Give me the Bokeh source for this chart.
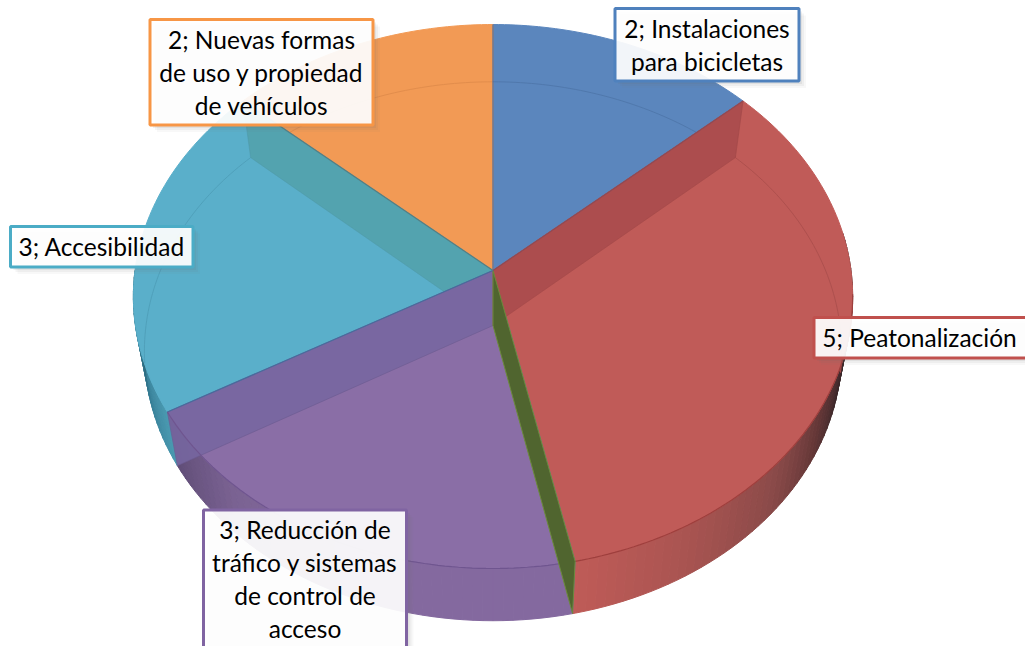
import math
from bokeh.plotting import figure
from bokeh.models import Range1d
from bokeh.core.properties import value
from bokeh.embed import file_html
from bokeh.resources import INLINE

categories = [["Instalaciones", "para bicicletas"],
              ["Peatonalización"],
              [],
              ["Reducción de", "tráfico y sistemas", "de control de", "acceso"],
              ["Accesibilidad"],
              ["Nuevas formas", "de uso y propiedad", "de vehículos"]]
values = [2, 5, 0, 3, 3, 2]
colors = ["#5b86bd", "#c05b58", "#9bbb59", "#8a6ea6", "#5aafca", "#f29a55"]
border = ["#4f81bd", "#c0504d", "#9bbb59", "#8064a2", "#4bacc6", "#f79646"]

# projection of the pie (page pixels)
CX, CY, RX, RY, K = 492.5, 270.0, 358.0, 269.5, 0.0956
CXB, CYB, RXB, RYB = 492.5, 325.0, 347.0, 267.0


def _p(t, cx, cy, rx, ry):
    a = math.radians(t)
    s = 1 / (1 + K * math.cos(a))
    return cx + rx * math.sin(a) * s, cy - ry * math.cos(a) * s


def top(t):
    return _p(t, CX, CY, RX, RY)


def base(t):
    return _p(t, CXB, CYB, RXB, RYB)


def arc(fn, a, b, step=1.0):
    n = max(2, int(abs(b - a) / step) + 1)
    return [fn(a + (b - a) * i / (n - 1)) for i in range(n)]


def lerp_color(stops, t):
    for (t0, c0), (t1, c1) in zip(stops, stops[1:]):
        if t0 <= t <= t1:
            f = (t - t0) / (t1 - t0)
            rgb = [int(round(int(c0[i:i + 2], 16) * (1 - f) + int(c1[i:i + 2], 16) * f)) for i in (1, 3, 5)]
            return "#%02x%02x%02x" % tuple(rgb)
    return stops[-1][1]


def intersect(p1, p2, p3, p4):
    x1, y1 = p1; x2, y2 = p2; x3, y3 = p3; x4, y4 = p4
    d = (x1 - x2) * (y3 - y4) - (y1 - y2) * (x3 - x4)
    u = ((x1 - x3) * (y3 - y4) - (y1 - y3) * (x3 - x4)) / d
    return x1 + u * (x2 - x1), y1 + u * (y2 - y1)


total = sum(values)
edges = [0.0]
for v in values:
    edges.append(edges[-1] + v / total * 360.0)

p = figure(width=1025, height=646, output_backend="svg", toolbar_location=None,
           x_range=Range1d(0, 1025), y_range=Range1d(646, 0), min_border=0,
           background_fill_color="white", border_fill_color="white", outline_line_color=None)
p.xaxis.visible = False
p.yaxis.visible = False
p.xgrid.visible = False
p.ygrid.visible = False

b_red, e_red = edges[1], edges[2]
b_pur, e_pur = edges[3], edges[4]
b_cya, e_cya = edges[4], edges[5]

# outer front wall, as narrow shaded strips
wall_stops = [
    (82, "#241d1f"), (100, "#2c2224"), (110, "#432a2c"), (120, "#663838"), (132, "#8a4a49"), (150, "#a95451"), (e_red, "#bf5b57"),
]
pur_stops = [(b_pur, "#84699f"), (200, "#84699f"), (222, "#7b6393"), (e_pur, "#5f4c76")]
cya_stops = [(b_cya, "#4a9ab2"), (255, "#357c94"), (270, "#20505f")]


def strip(a, b, stops):
    xs, ys, cs = [], [], []
    t = a
    while t < b - 1e-6:
        t2 = min(b, t + 1.5)
        q = [top(t), top(t2), base(t2), base(t)]
        xs.append([c[0] for c in q])
        ys.append([c[1] for c in q])
        cs.append(lerp_color(stops, (t + t2) / 2))
        t = t2
    p.patches(xs, ys, fill_color=cs, line_color=cs, line_width=1)


strip(82, e_red, wall_stops)
strip(b_pur, e_pur, pur_stops)
strip(b_cya, 270, cya_stops)

# top faces
for i, v in enumerate(values):
    if v == 0:
        continue
    pts = [(CX, CY)] + arc(top, edges[i], edges[i + 1])
    p.patch([c[0] for c in pts], [c[1] for c in pts], fill_color=colors[i], line_color=colors[i], line_width=1)

# back-disc rim seen through the faces
for i, a, b, col in [(0, edges[0], edges[1], "#5078ac"), (1, b_red, 100, "#ad504e"),
                     (4, 262, e_cya, "#50a0ba"), (5, b_cya + 0, edges[6], "#e28d4c")]:
    pts = arc(base, a, b)
    if i == 0:
        pts = [c for c in pts if (c[1] - CY) < (top(edges[1])[1] - CY) / (top(edges[1])[0] - CX) * (c[0] - CX)]
    if i == 5:
        q = top(edges[5])
        pts = [c for c in pts if (c[1] - CY) < (q[1] - CY) / (q[0] - CX) * (c[0] - CX)]
    p.line([c[0] for c in pts], [c[1] for c in pts], line_color=col, line_width=1)

# side walls of the slices, translucent
bc = (CXB, CYB)
c0 = (CX, CY)
q = [c0, top(e_cya), base(e_cya), intersect(base(e_cya), bc, c0, top(e_pur))]
p.patch([c[0] for c in q], [c[1] for c in q], fill_color="#51a0a8", fill_alpha=0.8, line_color="#4f98a8", line_alpha=0.5, line_width=1)
q = [c0, top(e_pur), base(e_pur), bc]
p.patch([c[0] for c in q], [c[1] for c in q], fill_color="#7666a0", fill_alpha=0.88, line_color="#6a5a90", line_alpha=0.6, line_width=1)
q = [c0, top(b_red), base(b_red), bc]
p.patch([c[0] for c in q], [c[1] for c in q], fill_color="#ab4d4e", fill_alpha=0.95, line_color="#a04848", line_alpha=0.6, line_width=1)

# front rim lines
for a, b, col in [(95, e_red, "#9e3f3d"), (b_pur, e_pur, "#6f558f")]:
    pts = arc(top, a, b)
    p.line([c[0] for c in pts], [c[1] for c in pts], line_color=col, line_width=1.2)

# wall of the empty slice
q = [c0, top(edges[2]), base(edges[2]), bc]
p.patch([c[0] for c in q], [c[1] for c in q], fill_color="#50652f", line_color="#6b8a3c", line_width=1)

# slice boundaries on the top face
for t, col in [(edges[0], "#4d6f9f"), (edges[1], "#8f4b55"), (e_pur, "#4a6a9c"), (e_cya, "#527f86")]:
    e = top(t)
    p.line([CX, e[0]], [CY, e[1]], line_color=col, line_width=1.2)

# data labels: index into the series, box (left, right, top, bottom), first-line centre
boxes = [(0, 614.5, 798.5, 8, 80.5, 28),
         (1, 813.5, 1029, 317, 357.5, 337),
         (3, 203, 406, 509.5, 660, 529),
         (4, 10, 192.5, 226, 266.5, 246),
         (5, 149.5, 372.5, 19, 124.5, 39)]
LINE = 32.9
for i, l, r, t, b, y0 in boxes:
    for off, alpha in [(7, 0.05), (5, 0.07), (3, 0.10)]:
        p.quad(left=l + off, right=r + off, top=t + off, bottom=b + off, fill_color="#6f6f6f", fill_alpha=alpha, line_color=None)
    p.quad(left=l, right=r, top=t, bottom=b, fill_color="white", fill_alpha=0.92,
           line_color=border[i], line_width=3)
    rows = list(categories[i])
    rows[0] = f"{values[i]}; {rows[0]}"
    xc = (l + r) / 2 if i != 1 else 919
    for n, row in enumerate(rows):
        p.text([xc], [y0 + n * LINE], text=[row], text_font=value("Lato"), text_font_size="24.5px",
               text_align="center", text_baseline="middle", text_color="black")

open("out.html", "w").write(file_html(p, INLINE))
